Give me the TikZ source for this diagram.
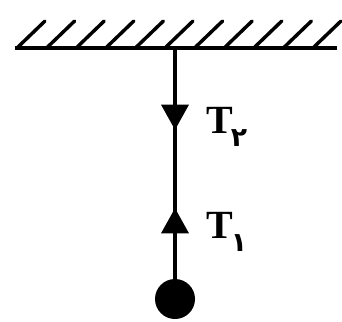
\documentclass[tikz,border=0pt]{standalone}
\usepackage{fontspec}
\setmainfont{Liberation Serif}
\newfontfamily\pfont[Script=Arabic]{DejaVu Sans}
\usetikzlibrary{arrows.meta}
\tikzset{
  rope/.style={line width=3.4pt},
  hatch/.style={line width=2.6pt, line cap=round},
  ceil/.style={line width=3.4pt},
  tip/.style={-{Triangle[width=20pt,length=19pt]}},
  force/.style={font=\fontsize{30}{30}\selectfont\bfseries, inner sep=0pt, anchor=base west},
  ball/.style={circle, fill=black, minimum size=30pt, inner sep=0pt}
}
\begin{document}
\begin{tikzpicture}[x=0.75pt,y=-0.75pt]
\useasboundingbox (0,0) rectangle (342,321);
% ceiling
\coordinate (cl) at (15,48);
\coordinate (cr) at (337,48);
\coordinate (top) at (175,48);
\draw[ceil] (cl) -- (cr);
\foreach \k in {0,...,10}{
  \draw[hatch] ({18+29.6*\k},47) -- ({45+29.6*\k},21);
}
% ball
\node[ball] (m) at (175,299) {};
% arrow tips on rope
\coordinate (a2) at (175,130);
\coordinate (a1) at (175,208);
\draw[rope] (top) -- (m.north);
\draw[rope,tip] (top) -- (a2);
\draw[rope,tip] (m.north) -- (a1);
% labels
\node[force] (t2) at (206,133) {T\kern-1.5pt\raisebox{-10pt}{\fontsize{20}{20}\selectfont\bfseries\pfont ۲}};
\node[force] (t1) at (206,238) {T\kern-1.5pt\raisebox{-10pt}{\fontsize{20}{20}\selectfont\bfseries\pfont ۱}};
\end{tikzpicture}
\end{document}
